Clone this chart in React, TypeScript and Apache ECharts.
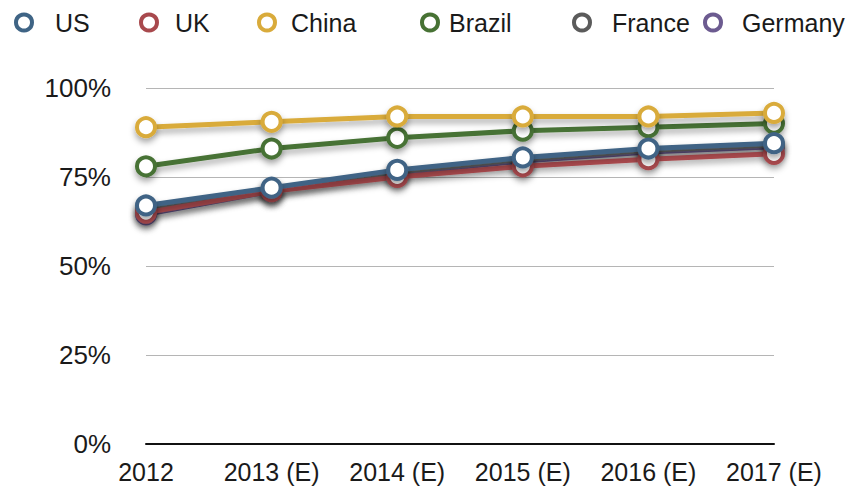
import React, { useEffect, useRef } from "react";
import * as echarts from "echarts";

const categories = ["2012", "2013 (E)", "2014 (E)", "2015 (E)", "2016 (E)", "2017 (E)"];
const seriesNames = ["US", "UK", "China", "Brazil", "France", "Germany"];
const usValues = [67, 72, 77, 80.5, 83, 84.5];
const ukValues = [65, 71, 75, 78, 80, 81.5];
const chinaValues = [89, 90.5, 92, 92, 92, 93];
const brazilValues = [78, 83, 86, 88, 89, 90];
const franceValues = [66, 71.5, 76.5, 80, 82.5, 84];
const germanyValues = [64.5, 71, 76, 79.5, 82, 83.5];
const yTicks = [0, 25, 50, 75, 100];

const colors: Record<string, string> = {
  US: "#3f6485",
  UK: "#a8494d",
  China: "#d9ab3b",
  Brazil: "#477234",
  France: "#5b5b5b",
  Germany: "#6c5b90",
};

const legendPos: Record<string, { left: number; pad: number }> = {
  US: { left: 14, pad: 18 },
  UK: { left: 139, pad: 13 },
  China: { left: 257, pad: 11 },
  Brazil: { left: 420, pad: 6 },
  France: { left: 572, pad: 17 },
  Germany: { left: 703, pad: 16 },
};

export default function App() {
  const ref = useRef<HTMLDivElement>(null);
  useEffect(() => {
    document.body.style.margin = "0";
    if (!ref.current) return;
    const chart = echarts.init(ref.current, undefined, { renderer: "svg" });
    const dataMap: Record<string, number[]> = {
      US: usValues,
      UK: ukValues,
      China: chinaValues,
      Brazil: brazilValues,
      France: franceValues,
      Germany: germanyValues,
    };
    const zMap: Record<string, number> = { US: 8, UK: 5, China: 7, Brazil: 6, France: 4, Germany: 3 };
    const font = "'Liberation Sans', Arial, Helvetica, sans-serif";
    chart.setOption({
      animation: false,
      backgroundColor: "#ffffff",
      legend: seriesNames.map((n) => ({
        data: [n],
        left: legendPos[n].left,
        top: 10,
        padding: 0,
        itemWidth: 16,
        itemHeight: 16,
        icon: "circle",
        itemStyle: { color: "#ffffff", borderColor: colors[n], borderWidth: 4 },
        lineStyle: { opacity: 0 },
        textStyle: { fontFamily: font, fontSize: 25, color: "#1a1a1a", padding: [0, 0, 0, legendPos[n].pad] },
        selectedMode: false,
      })),
      grid: { left: 146, right: 78, top: 88, bottom: 43, containLabel: false },
      xAxis: {
        type: "category",
        data: categories,
        boundaryGap: false,
        axisLine: { show: true, lineStyle: { color: "#111", width: 2 } },
        axisTick: { show: false },
        axisLabel: { fontFamily: font, fontSize: 25, color: "#1a1a1a", margin: 15, interval: 0, hideOverlap: false },
        splitLine: { show: false },
      },
      yAxis: {
        type: "value",
        min: yTicks[0],
        max: yTicks[yTicks.length - 1],
        interval: 25,
        axisLine: { show: false },
        axisTick: { show: false },
        axisLabel: { fontFamily: font, fontSize: 26, color: "#1a1a1a", margin: 35, formatter: "{value}%" },
        splitLine: { show: true, lineStyle: { color: "#b5b5b5", width: 1 } },
      },
      series: seriesNames.map((n) => ({
        name: n,
        type: "line",
        data: dataMap[n],
        z: zMap[n],
        color: colors[n],
        symbol: "circle",
        symbolSize: 18,
        showAllSymbol: true,
        lineStyle: {
          color: colors[n],
          width: 5,
          shadowColor: "rgba(0,0,0,0.35)",
          shadowBlur: 6,
          shadowOffsetY: 4,
        },
        itemStyle: {
          color: "#ffffff",
          borderColor: colors[n],
          borderWidth: 4,
          shadowColor: "rgba(0,0,0,0.35)",
          shadowBlur: 6,
          shadowOffsetY: 4,
        },
        emphasis: { disabled: true },
      })),
    });
    return () => chart.dispose();
  }, []);
  return <div ref={ref} style={{ width: 852, height: 487 }} />;
}
